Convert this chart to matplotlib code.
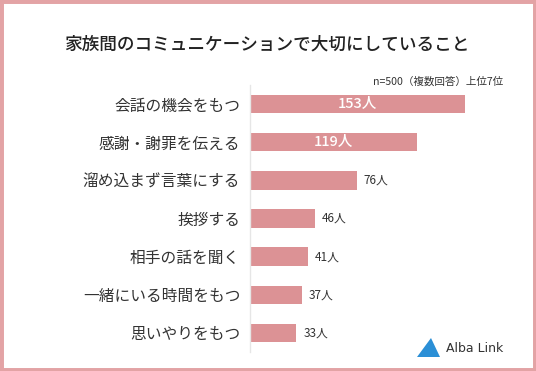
import matplotlib
matplotlib.use("Agg")
import matplotlib.pyplot as plt
from matplotlib.patches import Rectangle, Polygon

plt.rcParams['font.family'] = ['Noto Sans CJK JP', 'DejaVu Sans']

categories = ["会話の機会をもつ", "感謝・謝罪を伝える", "溜め込まず言葉にする", "挨拶する",
              "相手の話を聞く", "一緒にいる時間をもつ", "思いやりをもつ"]
values = [153, 119, 76, 46, 41, 37, 33]
value_labels = ["153人", "119人", "76人", "46人", "41人", "37人", "33人"]

W, H = 536, 371
fig = plt.figure(figsize=(W / 100, H / 100), dpi=100)
fig.patch.set_facecolor("white")

bar_color = "#DC9295"
x0, x1 = 250, 500
y_top, y_bot = 85, 352
ax = fig.add_axes([x0 / W, 1 - y_bot / H, (x1 - x0) / W, (y_bot - y_top) / H])
ax.set_facecolor("none")
scale = (465 - 250) / 153.0
ax.set_xlim(0, (x1 - x0) / scale)
n = len(categories)
ax.set_ylim(n - 0.5, -0.5)
ypos = list(range(n))
ax.barh(ypos, values, height=0.48, color=bar_color)
for s in ["top", "right", "bottom"]:
    ax.spines[s].set_visible(False)
ax.spines["left"].set_color("#E6E6E6")
ax.spines["left"].set_linewidth(1.0)
ax.set_xticks([])
ax.set_yticks(ypos)
ax.set_yticklabels(categories, fontsize=11.3, color="#333333")
ax.tick_params(axis="y", length=0, pad=7)

for i, (v, lab) in enumerate(zip(values, value_labels)):
    if v > 100:
        ax.text(v / 2, i, lab, ha="center", va="center", color="white",
                fontsize=10.5, fontweight="medium")
    else:
        ax.text(v + 5, i, lab, ha="left", va="center", color="#333333", fontsize=8.5)

fig.text(267 / W, 1 - 44 / H, "家族間のコミュニケーションで大切にしていること",
         ha="center", va="center", fontsize=12.7, color="#222222", fontweight="medium")
fig.text(503 / W, 1 - 82 / H, "n=500（複数回答）上位7位",
         ha="right", va="center", fontsize=7.6, color="#333333")

# logo
tri = Polygon([[(417) / W, 1 - 357 / H], [(440) / W, 1 - 357 / H], [(431) / W, 1 - 338 / H]],
              closed=True, transform=fig.transFigure, facecolor="#2B8FD6", edgecolor="none")
fig.patches.append(tri)
fig.text(446 / W, 1 - 348 / H, "Alba Link", ha="left", va="center",
         fontsize=9, color="#333333", family=["DejaVu Sans"])

# border
border = Rectangle((0, 0), 1, 1, transform=fig.transFigure, fill=False,
                   edgecolor="#E3A3A5", linewidth=5)
fig.patches.append(border)

fig.savefig("out.png", dpi=100)
